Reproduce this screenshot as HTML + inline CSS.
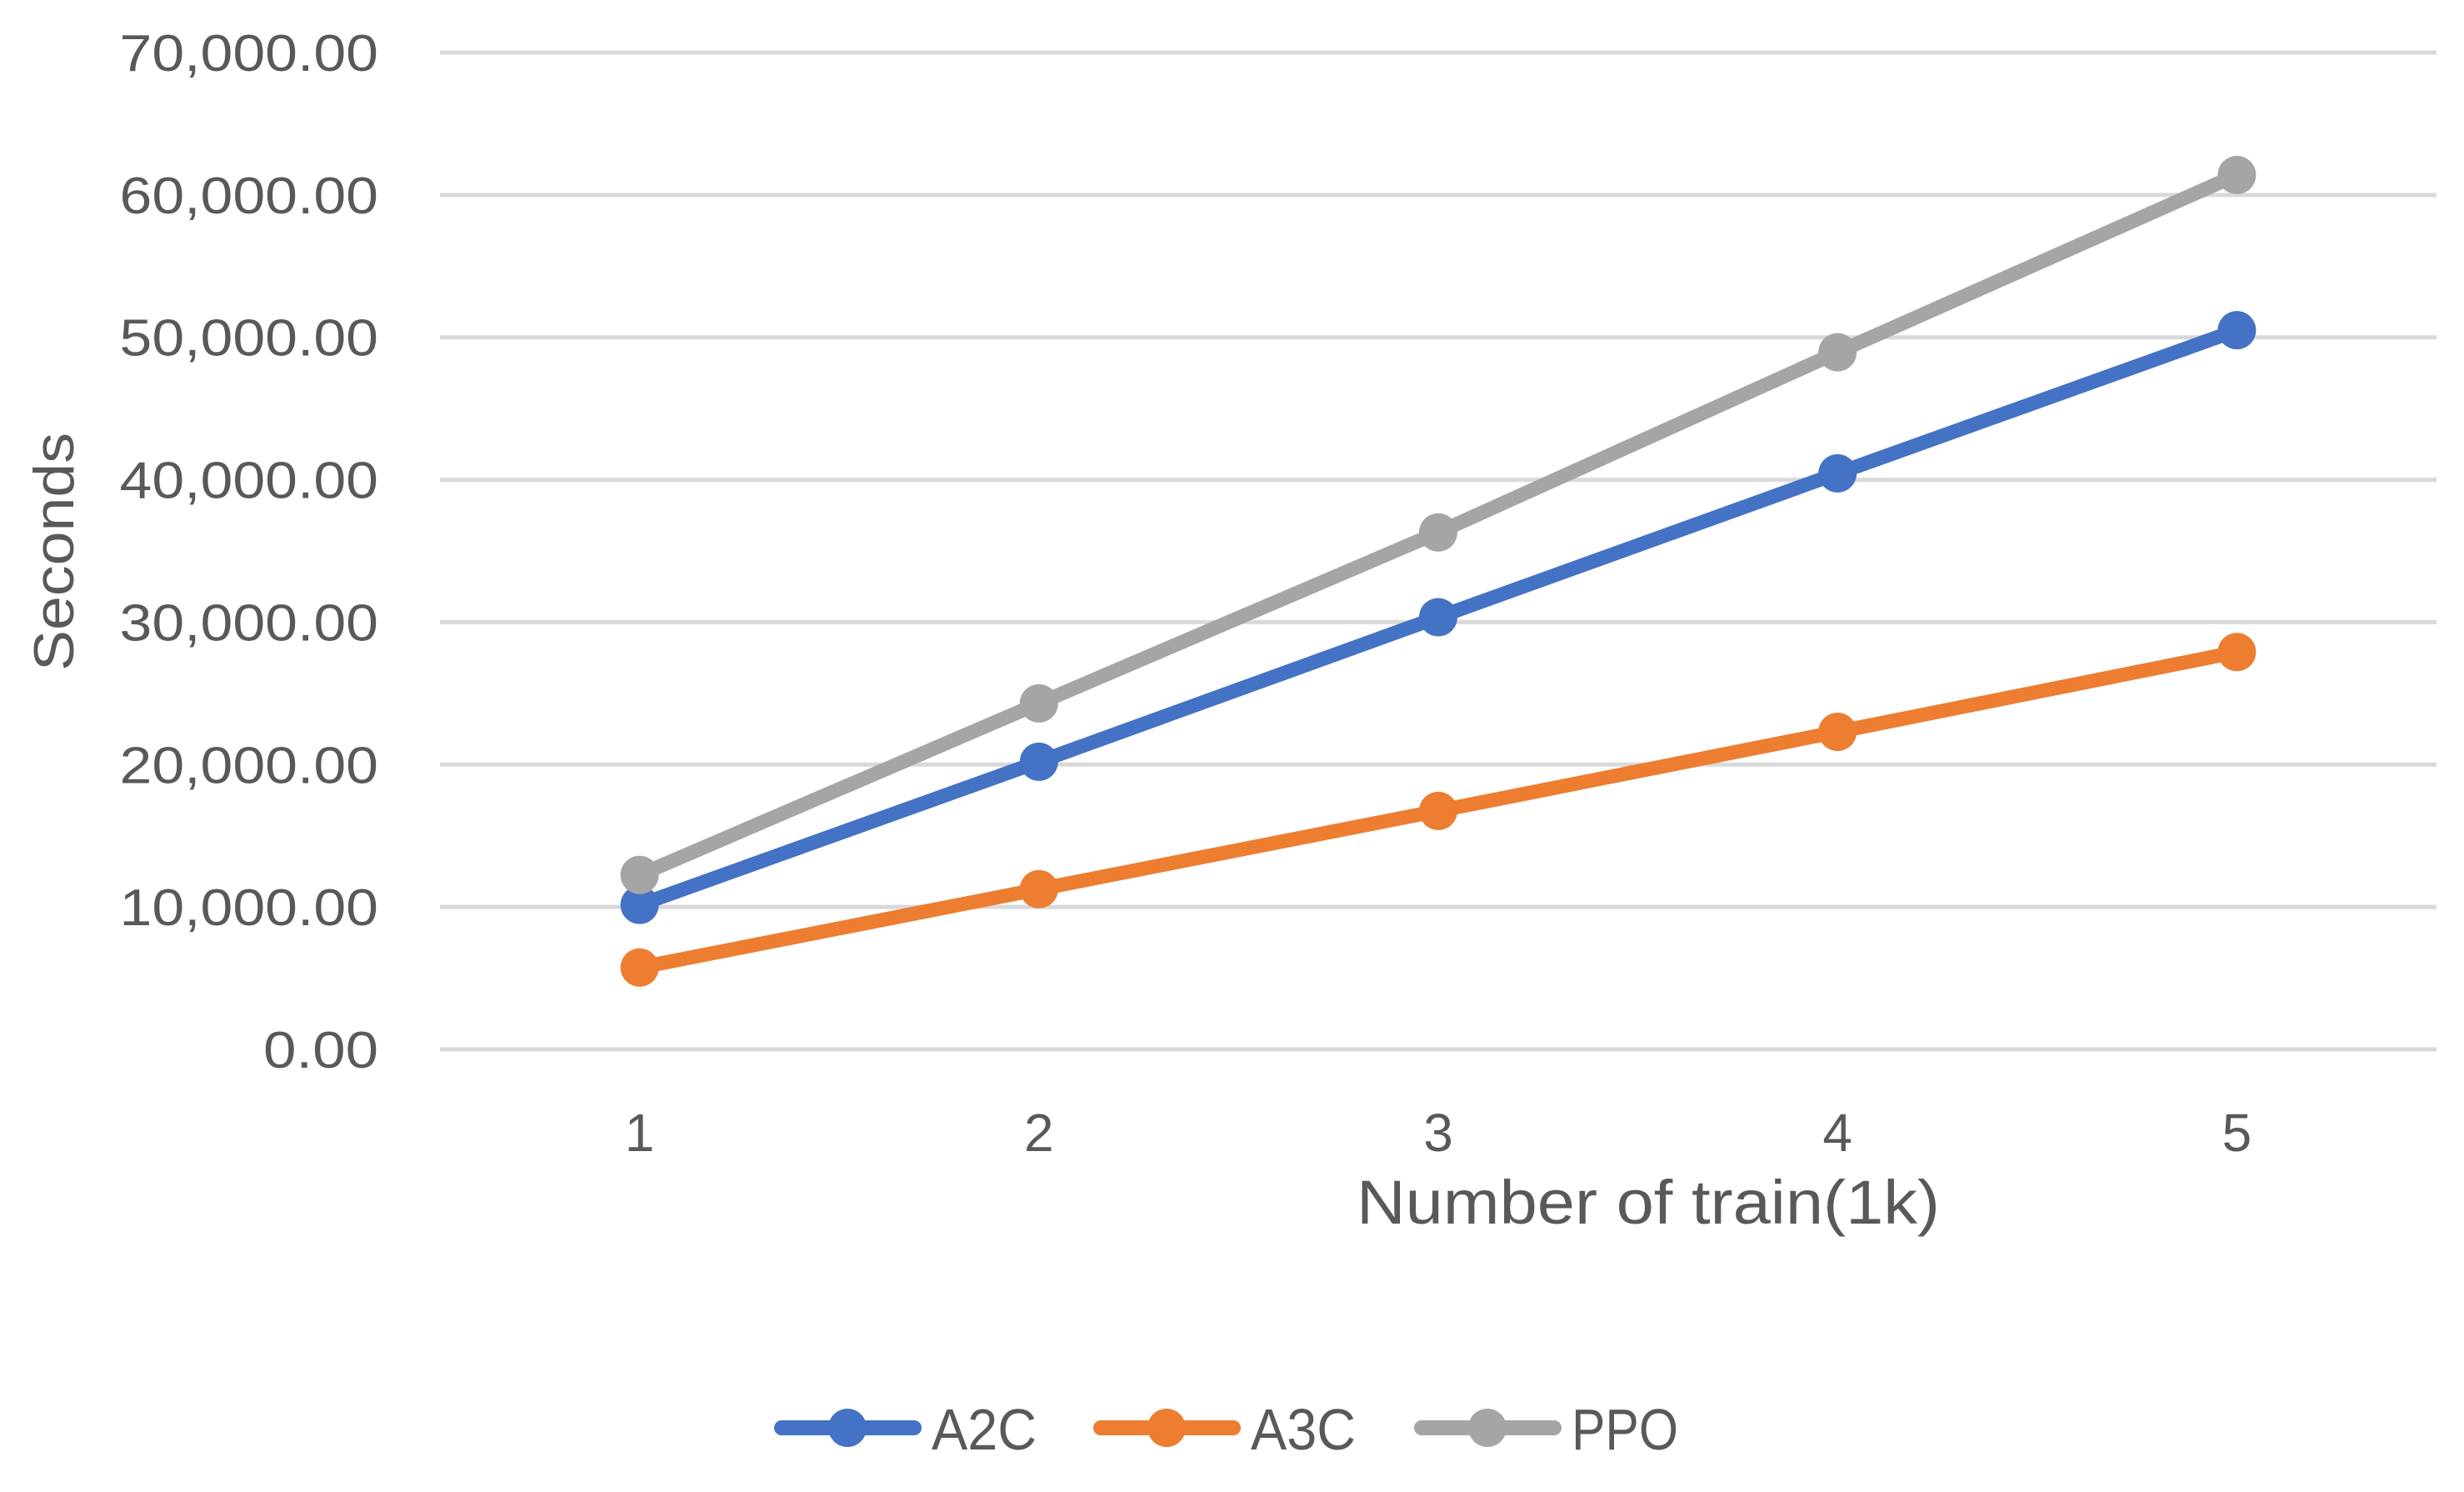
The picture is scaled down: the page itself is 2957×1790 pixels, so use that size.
<!DOCTYPE html>
<html><head><meta charset="utf-8"><style>
html,body{margin:0;padding:0;background:#fff;}
svg{display:block;font-family:"Liberation Sans",sans-serif;}
</style></head><body>
<svg id="chart" width="2957" height="1790" viewBox="0 0 2957 1790" xmlns="http://www.w3.org/2000/svg">
<g id="grid"></g>
<g id="yticks"></g>
<g id="xticks"></g>
<g id="series"></g>
<text transform="translate(88,662) rotate(-90)" text-anchor="middle" font-size="68" fill="#595959" textLength="286" lengthAdjust="spacingAndGlyphs">Seconds</text>
<text x="1978" y="1468" text-anchor="middle" font-size="74" fill="#595959" textLength="700" lengthAdjust="spacingAndGlyphs">Number of train(1k)</text>
<g id="legend"></g>
</svg>
<script>
const categories = ["1","2","3","4","5"];
const yTicks = [0,10000,20000,30000,40000,50000,60000,70000];
const yTickLabels = ["0.00","10,000.00","20,000.00","30,000.00","40,000.00","50,000.00","60,000.00","70,000.00"];
const seriesNames = ["A2C","A3C","PPO"];
const a2c = [10150,20200,30350,40450,50500];
const a3c = [5750,11250,16750,22300,27900];
const ppo = [12250,24300,36300,48950,61400];
const colors = ["#4472c4","#ed7d31","#a5a5a5"];

const NS="http://www.w3.org/2000/svg";
const L=528,R=2924,T=63,B=1259,yMax=70000;
function xs(i){return L+(R-L)/categories.length*(i+0.5);}
function ys(v){return B-(B-T)*v/yMax;}
function mk(tag,attrs,parent){const e=document.createElementNS(NS,tag);for(const k in attrs)e.setAttribute(k,attrs[k]);parent.appendChild(e);return e;}

const grid=document.getElementById('grid'),yt=document.getElementById('yticks'),xt=document.getElementById('xticks'),sg=document.getElementById('series'),lg=document.getElementById('legend');
yTicks.forEach((v,i)=>{
  const ln=mk('line',{x1:L,x2:R,y1:ys(v),y2:ys(v),stroke:'#d9d9d9','stroke-width':5},grid);
  
  
  const t=mk('text',{x:454,y:ys(v)+22,'text-anchor':'end','font-size':62,fill:'#595959'},yt);
  
  
  t.textContent=yTickLabels[i];
  t.setAttribute('textLength',yTickLabels[i].length*34.5);
  t.setAttribute('lengthAdjust','spacingAndGlyphs');
});
categories.forEach((c,i)=>{
  const t=mk('text',{x:xs(i),y:1381,'text-anchor':'middle','font-size':64,fill:'#595959'},xt);
  
  
  t.textContent=c;
});
[a2c,a3c,ppo].forEach((d,s)=>{
  const g=mk('g',{},sg);
  
  
  const pts=d.map((v,i)=>xs(i)+','+ys(v)).join(' ');
  const pl=mk('polyline',{points:pts,fill:'none',stroke:colors[s],'stroke-width':17,'stroke-linejoin':'round'},g);
  
  
  d.forEach((v,i)=>{
    const c=mk('circle',{cx:xs(i),cy:ys(v),r:23,fill:colors[s]},g);
    
    
  });
});
const legX=[929,1312,1697];
seriesNames.forEach((n,s)=>{
  const g=mk('g',{},lg);
  
  
  const x=legX[s],y=1713;
  mk('line',{x1:x+9,x2:x+168,y1:y,y2:y,stroke:colors[s],'stroke-width':18,'stroke-linecap':'round'},g);
  mk('circle',{cx:x+88,cy:y,r:23,fill:colors[s]},g);
  const t=mk('text',{x:x+189,y:y+26,'font-size':70,fill:'#595959'},g);
  t.textContent=n;
  t.setAttribute('textLength',n==="PPO"?128:126);
  t.setAttribute('lengthAdjust','spacingAndGlyphs');
});
</script>
</body></html>
